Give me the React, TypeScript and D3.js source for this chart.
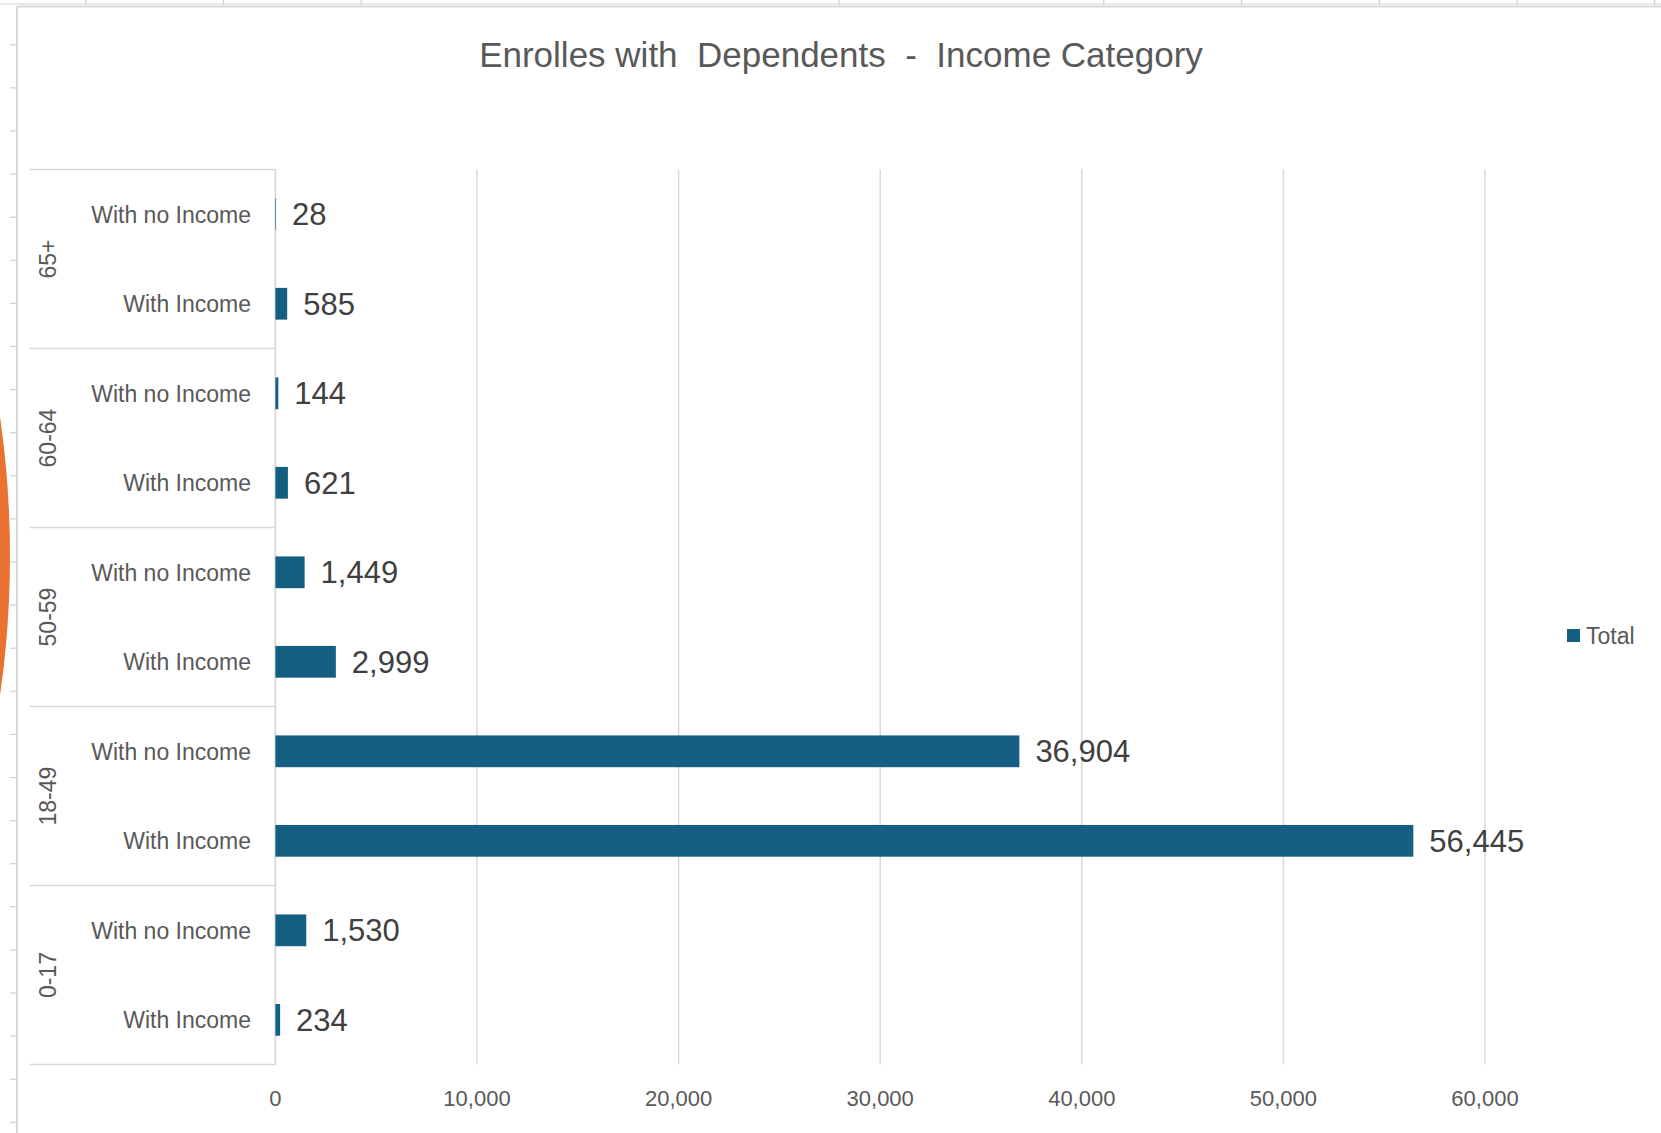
import React from 'react';
import * as d3 from 'd3';

const ageGroups = ['0-17', '18-49', '50-59', '60-64', '65+'];
const incomeTypes = ['With Income', 'With no Income'];
const withIncome = [234, 56445, 2999, 621, 585];
const withNoIncome = [1530, 36904, 1449, 144, 28];
const xTicks = [0, 10000, 20000, 30000, 40000, 50000, 60000];
const title = 'Enrolles with  Dependents  -  Income Category';
const legendLabel = 'Total';

const W = 1661;
const H = 1133;
const FONT = '"Liberation Sans", Arial, sans-serif';
const TEXT = '#595959';
const GRID = '#D9D9D9';
const BAR = '#156082';

export default function App() {
  const plotLeft = 275.4;
  const plotRight = 1485;
  const plotTop = 169.5;
  const plotBottom = 1064.6;
  const catLeft = 29.7;

  const rows = ageGroups.flatMap((g, i) => [
    { group: g, cat: incomeTypes[0], value: withIncome[i], key: g + '|' + incomeTypes[0] },
    { group: g, cat: incomeTypes[1], value: withNoIncome[i], key: g + '|' + incomeTypes[1] },
  ]);

  const x = d3.scaleLinear().domain([0, 60000]).range([plotLeft, plotRight]);
  const y = d3
    .scaleBand<string>()
    .domain(rows.map((r) => r.key).reverse())
    .range([plotTop, plotBottom])
    .paddingInner(0.645)
    .paddingOuter(0.3225);
  const yRow = d3
    .scaleBand<string>()
    .domain(rows.map((r) => r.key).reverse())
    .range([plotTop, plotBottom])
    .padding(0);
  const yGroup = d3
    .scaleBand<string>()
    .domain([...ageGroups].reverse())
    .range([plotTop, plotBottom])
    .padding(0);
  const fmt = d3.format(',');

  const boundaries = [...yGroup.domain().map((g) => yGroup(g) as number), plotBottom];

  // spreadsheet gridline stubs around the chart object
  const rowTicks = d3.range(44.8, H, 43.1);
  const colTicks = [85.8, 223.5, 361.2, 839, 1103.8, 1241.5, 1379.3, 1517, 1654.6];

  return (
    <svg
      width={W}
      height={H}
      viewBox={`0 0 ${W} ${H}`}
      style={{ position: 'absolute', left: 0, top: 0, display: 'block', background: '#fff' }}
      fontFamily={FONT}
    >
      <rect x={0} y={0} width={W} height={H} fill="#fff" />
      {/* spreadsheet background stubs */}
      <line x1={0} x2={W} y1={4} y2={4} stroke="#E3E3E3" strokeWidth={1.5} />
      {colTicks.map((cx, i) => (
        <line key={'ct' + i} x1={cx} x2={cx} y1={0} y2={5} stroke="#D0D0D0" strokeWidth={1.2} />
      ))}
      {rowTicks.map((ry, i) => (
        <line key={'rt' + i} x1={10} x2={16} y1={ry} y2={ry} stroke="#D0D0D0" strokeWidth={1.2} />
      ))}
      {/* orange shape peeking in from the left */}
      <ellipse cx={-200} cy={556} rx={210} ry={456} fill="#E97132" />
      {/* chart frame */}
      <line x1={17} x2={W} y1={6.5} y2={6.5} stroke={GRID} strokeWidth={2} />
      <line x1={17} x2={17} y1={6} y2={H} stroke={GRID} strokeWidth={2} />

      {/* title */}
      <text
        x={841}
        y={67}
        textAnchor="middle"
        fontSize={35}
        fill={TEXT}
        style={{ whiteSpace: 'pre' }}
      >
        {title}
      </text>

      {/* gridlines */}
      {xTicks.map((t) => (
        <line
          key={'g' + t}
          x1={x(t)}
          x2={x(t)}
          y1={plotTop}
          y2={plotBottom}
          stroke={GRID}
          strokeWidth={1.5}
        />
      ))}

      {/* category axis box */}
      {boundaries.map((by, i) => (
        <line key={'b' + i} x1={catLeft} x2={plotLeft} y1={by} y2={by} stroke={GRID} strokeWidth={1.5} />
      ))}
      <line x1={plotLeft} x2={plotLeft} y1={plotTop} y2={plotBottom} stroke={GRID} strokeWidth={1.5} />

      {/* bars */}
      {rows.map((r) => (
        <rect
          key={'bar' + r.key}
          x={x(0)}
          y={y(r.key)}
          width={Math.max(0, x(r.value) - x(0))}
          height={y.bandwidth()}
          fill={BAR}
        />
      ))}

      {/* value labels */}
      {rows.map((r) => (
        <text
          key={'v' + r.key}
          x={x(r.value) + 16}
          y={(y(r.key) as number) + y.bandwidth() / 2}
          dy="0.36em"
          fontSize={31}
          fill="#404040"
        >
          {fmt(r.value)}
        </text>
      ))}

      {/* category labels */}
      {rows.map((r) => (
        <text
          key={'c' + r.key}
          x={251}
          y={(yRow(r.key) as number) + yRow.bandwidth() / 2}
          dy="0.36em"
          textAnchor="end"
          fontSize={23}
          fill={TEXT}
        >
          {r.cat}
        </text>
      ))}

      {/* group labels */}
      {ageGroups.map((g) => {
        const cy = (yGroup(g) as number) + yGroup.bandwidth() / 2;
        return (
          <text
            key={'grp' + g}
            transform={`translate(47.7, ${cy}) rotate(-90)`}
            textAnchor="middle"
            dy="0.36em"
            fontSize={23}
            fill={TEXT}
          >
            {g}
          </text>
        );
      })}

      {/* x tick labels */}
      {xTicks.map((t) => (
        <text key={'t' + t} x={x(t)} y={1098.5} dy="0.36em" textAnchor="middle" fontSize={22} fill={TEXT}>
          {fmt(t)}
        </text>
      ))}

      {/* legend */}
      <rect x={1567} y={629} width={13} height={13} fill={BAR} />
      <text x={1586} y={636} dy="0.36em" fontSize={23} fill={TEXT}>
        {legendLabel}
      </text>
    </svg>
  );
}
